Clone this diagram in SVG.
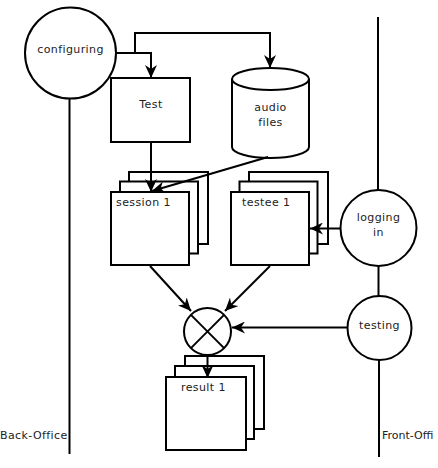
<svg xmlns="http://www.w3.org/2000/svg" width="438" height="468" viewBox="0 0 438 468">
<defs>
<marker id="ah" markerUnits="userSpaceOnUse" markerWidth="14" markerHeight="12" refX="13" refY="6" orient="auto">
<path d="M0,0 L13,6 L0,12 L4,6 z" fill="#000"/>
</marker>
<style>
.s{fill:#fff;stroke:#000;stroke-width:2}
.l{fill:none;stroke:#000;stroke-width:2}
.c{fill:none;stroke:#000;stroke-width:2;marker-end:url(#ah)}
text{font-family:"DejaVu Sans",sans-serif;font-size:11px;fill:#222;letter-spacing:0.4px}
.m{text-anchor:middle}
</style>
</defs>
<rect width="438" height="468" fill="#fff"/>
<g id="lanes">
<line class="l" x1="69.5" y1="99" x2="69.5" y2="454"/>
<line class="l" x1="378" y1="17" x2="378" y2="190"/>
<line class="l" x1="378.5" y1="266" x2="378.5" y2="296"/>
<line class="l" x1="379" y1="360" x2="379" y2="457"/>
</g>
<g id="configuring">
<circle class="s" cx="70.5" cy="53" r="45.5"/>
<text class="m" x="70.5" y="53">configuring</text>
</g>
<g id="test">
<rect class="s" x="111" y="78" width="79" height="64"/>
<text class="m" x="151" y="108">Test</text>
</g>
<g id="audio-files">
<path class="s" d="M232,79 V147 A38.5,11 0 0 0 309,147 V79"/>
<ellipse class="s" cx="270.5" cy="79" rx="38.5" ry="11"/>
<text class="m" x="270.5" y="111">audio</text>
<text class="m" x="270.5" y="126">files</text>
</g>
<g id="session">
<rect class="s" x="129" y="172" width="79" height="72"/>
<rect class="s" x="120" y="181.5" width="78" height="72"/>
<rect class="s" x="111" y="192" width="78" height="73"/>
<text x="116" y="206">session 1</text>
</g>
<g id="testee">
<rect class="s" x="249" y="172" width="79" height="72"/>
<rect class="s" x="239.5" y="181.5" width="78" height="72"/>
<rect class="s" x="231" y="192" width="78" height="73"/>
<text x="242" y="206">testee 1</text>
</g>
<g id="logging-in">
<circle class="s" cx="378.5" cy="228" r="38"/>
<text class="m" x="378.5" y="221">logging</text>
<text class="m" x="378.5" y="236">in</text>
</g>
<g id="testing">
<circle class="s" cx="379.5" cy="328" r="32"/>
<text class="m" x="379.5" y="329">testing</text>
</g>
<g id="merge">
<circle class="s" cx="207.5" cy="331.5" r="23.5"/>
<line class="l" x1="190.9" y1="314.9" x2="224.1" y2="348.1"/>
<line class="l" x1="224.1" y1="314.9" x2="190.9" y2="348.1"/>
</g>
<g id="result">
<rect class="s" x="185" y="356" width="79" height="73"/>
<rect class="s" x="175" y="366" width="79" height="73"/>
<rect class="s" x="166" y="377" width="80" height="73"/>
<text x="181" y="391">result 1</text>
</g>
<g id="connectors">
<path class="c" d="M116,53 H151 V78"/>
<path class="c" d="M135,53 V33 H270 V68"/>
<path class="c" d="M151,142 V192"/>
<path class="c" d="M268,157 L152,191"/>
<path class="c" d="M340,228.5 H310"/>
<path class="c" d="M150,266 L191,311"/>
<path class="c" d="M270,266 L225,311"/>
<path class="c" d="M347,327.5 H232"/>
<path class="c" d="M207.5,355 V378"/>
</g>
<g id="labels">
<text x="0" y="439">Back-Office</text>
<text x="382" y="439" style="letter-spacing:0">Front-Offi</text>
</g>
</svg>
